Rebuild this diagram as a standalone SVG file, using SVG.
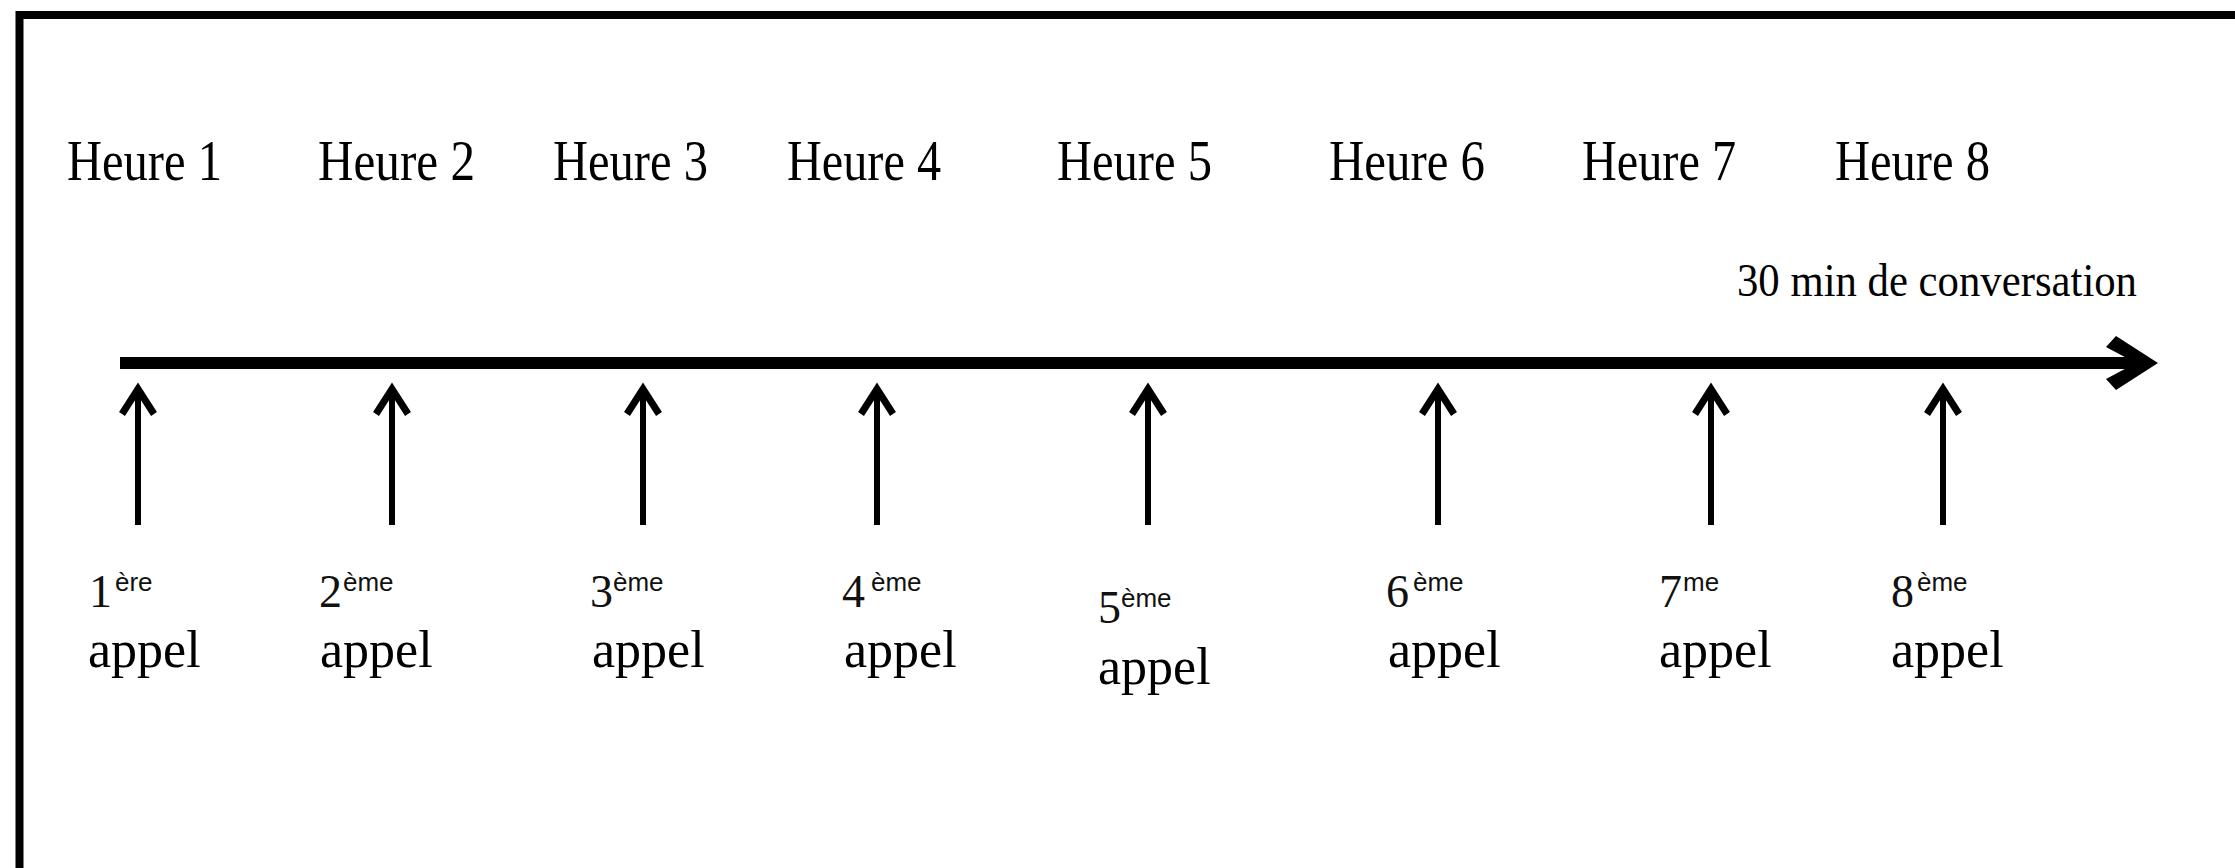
<svg xmlns="http://www.w3.org/2000/svg" width="2235" height="868" viewBox="0 0 2235 868">
<style>
.h{font-family:"Liberation Serif","Times New Roman",serif;font-size:56px;fill:#000}
.d{font-family:"Liberation Serif","Times New Roman",serif;font-size:46px;fill:#111}
.s{font-family:"Liberation Sans",Arial,sans-serif;font-size:26px;fill:#111}
.a{font-family:"Liberation Serif","Times New Roman",serif;font-size:52px;fill:#000}
.c{font-family:"Liberation Serif","Times New Roman",serif;font-size:46px;fill:#000}
.shaft{stroke:#000;stroke-width:6;fill:none}
.head{stroke:#000;stroke-width:7;fill:none;stroke-linejoin:miter;stroke-miterlimit:10}
</style>
<defs>
<g id="up">
<line class="shaft" x1="0" y1="525" x2="0" y2="388"/>
<polyline class="head" points="-16,414 0,389 16,414"/>
</g>
</defs>
<rect width="2235" height="868" fill="#fff"/>
<path id="frame" d="M19.5,868 V15 H2235" fill="none" stroke="#000" stroke-width="8" stroke-linejoin="miter"/>
<g id="hours">
<g id="h1"><text class="h" x="67" y="180" textLength="155" lengthAdjust="spacingAndGlyphs">Heure 1</text></g>
<g id="h2"><text class="h" x="318" y="180" textLength="157" lengthAdjust="spacingAndGlyphs">Heure 2</text></g>
<g id="h3"><text class="h" x="553" y="180" textLength="155" lengthAdjust="spacingAndGlyphs">Heure 3</text></g>
<g id="h4"><text class="h" x="787" y="180" textLength="154" lengthAdjust="spacingAndGlyphs">Heure 4</text></g>
<g id="h5"><text class="h" x="1057" y="180" textLength="155" lengthAdjust="spacingAndGlyphs">Heure 5</text></g>
<g id="h6"><text class="h" x="1329" y="180" textLength="156" lengthAdjust="spacingAndGlyphs">Heure 6</text></g>
<g id="h7"><text class="h" x="1582" y="180" textLength="154" lengthAdjust="spacingAndGlyphs">Heure 7</text></g>
<g id="h8"><text class="h" x="1835" y="180" textLength="155" lengthAdjust="spacingAndGlyphs">Heure 8</text></g>
</g>
<g id="conv"><text class="c" x="1737" y="296" textLength="400" lengthAdjust="spacingAndGlyphs">30 min de conversation</text></g>
<g id="connectors">
<line x1="120" y1="363" x2="2140" y2="363" stroke="#000" stroke-width="12"/>
<polygon points="2158,363 2116,336 2106,347 2136,363 2106,379 2116,390" fill="#000"/>
<use href="#up" x="138"/>
<use href="#up" x="392"/>
<use href="#up" x="643"/>
<use href="#up" x="877"/>
<use href="#up" x="1148"/>
<use href="#up" x="1438"/>
<use href="#up" x="1711"/>
<use href="#up" x="1943"/>
</g>
<g id="call1"><text class="d" x="89" y="607">1</text><text class="s" x="115" y="591">ère</text><text class="a" x="88" y="667">appel</text></g>
<g id="call2"><text class="d" x="319" y="607">2</text><text class="s" x="343" y="591">ème</text><text class="a" x="320" y="667">appel</text></g>
<g id="call3"><text class="d" x="590" y="607">3</text><text class="s" x="613" y="591">ème</text><text class="a" x="592" y="667">appel</text></g>
<g id="call4"><text class="d" x="842" y="607">4</text><text class="s" x="871" y="591">ème</text><text class="a" x="844" y="667">appel</text></g>
<g id="call5"><text class="d" x="1098" y="623">5</text><text class="s" x="1121" y="607">ème</text><text class="a" x="1098" y="684">appel</text></g>
<g id="call6"><text class="d" x="1386" y="607">6</text><text class="s" x="1413" y="591">ème</text><text class="a" x="1388" y="667">appel</text></g>
<g id="call7"><text class="d" x="1659" y="607">7</text><text class="s" x="1683" y="591">me</text><text class="a" x="1659" y="667">appel</text></g>
<g id="call8"><text class="d" x="1891" y="607">8</text><text class="s" x="1917" y="591">ème</text><text class="a" x="1891" y="667">appel</text></g>
</svg>
